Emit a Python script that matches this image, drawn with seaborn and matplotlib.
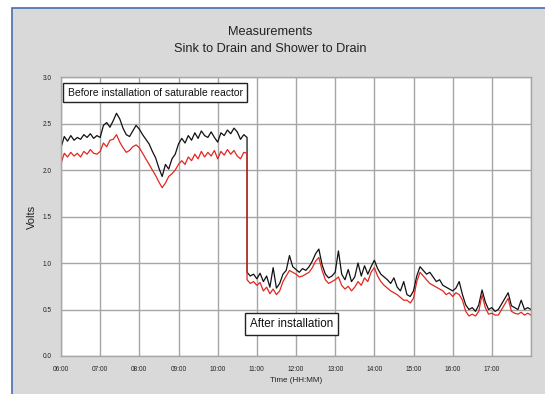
import numpy as np
import pandas as pd
import matplotlib
matplotlib.use("Agg")
import matplotlib.pyplot as plt
from matplotlib.patches import Rectangle
import seaborn as sns

# ---- data: 5-minute samples ----
# before installation: 06:00 .. 10:45
before_start = 6.0
sink_before = [
    2.24, 2.36, 2.31, 2.37, 2.32, 2.35, 2.33, 2.38, 2.35, 2.39, 2.34, 2.37,
    2.35, 2.48, 2.51, 2.46, 2.53, 2.61, 2.55, 2.45, 2.38, 2.36, 2.42, 2.48,
    2.44, 2.38, 2.33, 2.28, 2.20, 2.13, 2.02, 1.93, 2.06, 2.01, 2.12, 2.17,
    2.28, 2.34, 2.29, 2.37, 2.32, 2.40, 2.34, 2.42, 2.37, 2.35, 2.41, 2.35,
    2.30, 2.40, 2.37, 2.43, 2.39, 2.45, 2.41, 2.33, 2.38, 2.35,
]
shower_before = [
    2.07, 2.18, 2.14, 2.19, 2.15, 2.18, 2.14, 2.20, 2.17, 2.22, 2.18, 2.17,
    2.20, 2.29, 2.25, 2.32, 2.33, 2.38, 2.30, 2.24, 2.19, 2.21, 2.25, 2.27,
    2.24, 2.18, 2.12, 2.06, 2.00, 1.94, 1.87, 1.81, 1.86, 1.93, 1.96, 2.00,
    2.06, 2.10, 2.06, 2.14, 2.10, 2.17, 2.12, 2.20, 2.14, 2.19, 2.15, 2.21,
    2.12, 2.20, 2.16, 2.22, 2.17, 2.21, 2.15, 2.12, 2.19, 2.18,
]
# after installation: 10:45 .. 18:00
after_start = 10.75
sink_after = [
    0.90, 0.86, 0.88,
    0.83, 0.89, 0.80, 0.86, 0.74, 0.95, 0.73, 0.78, 0.88, 0.92, 1.08, 0.96,
    0.93, 0.90, 0.94, 0.92, 0.96, 1.02, 1.10, 1.15, 0.98, 0.88, 0.84, 0.86,
    0.90, 1.13, 0.88, 0.82, 0.93, 0.80, 0.85, 1.00, 0.86, 0.97, 0.88, 0.96,
    1.03, 0.94, 0.88, 0.85, 0.82, 0.78, 0.84, 0.74, 0.70, 0.80, 0.66, 0.64,
    0.70, 0.86, 0.96, 0.92, 0.88, 0.90, 0.85, 0.80, 0.82, 0.76, 0.74, 0.72,
    0.70, 0.73, 0.80, 0.66, 0.55, 0.50, 0.52, 0.48, 0.55, 0.71, 0.58, 0.50,
    0.52, 0.48, 0.50, 0.56, 0.62, 0.68, 0.54, 0.52, 0.50, 0.60, 0.50, 0.52,
    0.50,
]
shower_after = [
    0.82, 0.78, 0.80,
    0.76, 0.79, 0.70, 0.74, 0.67, 0.72, 0.66, 0.70, 0.80, 0.86, 0.92, 0.90,
    0.88, 0.85, 0.86, 0.88, 0.90, 0.95, 1.02, 1.06, 0.92, 0.82, 0.78, 0.80,
    0.82, 0.85, 0.76, 0.72, 0.75, 0.70, 0.74, 0.80, 0.76, 0.84, 0.80, 0.90,
    0.95, 0.86, 0.80, 0.76, 0.73, 0.70, 0.68, 0.66, 0.63, 0.60, 0.60, 0.57,
    0.62, 0.80, 0.90, 0.86, 0.82, 0.78, 0.76, 0.74, 0.72, 0.70, 0.66, 0.68,
    0.64, 0.68, 0.66, 0.60, 0.48, 0.43, 0.45, 0.43, 0.48, 0.66, 0.52, 0.45,
    0.46, 0.44, 0.44, 0.50, 0.56, 0.62, 0.48, 0.46, 0.45, 0.47, 0.44, 0.46,
    0.44,
]
tick_labels = ["06:00", "07:00", "08:00", "09:00", "10:00", "11:00",
               "12:00", "13:00", "14:00", "15:00", "16:00", "17:00"]
y_ticks = [0.0, 0.5, 1.0, 1.5, 2.0, 2.5, 3.0]

step_h = 5 / 60.0
hours_before = before_start + np.arange(len(sink_before)) * step_h
hours_after = after_start + np.arange(len(sink_after)) * step_h
hours = np.concatenate([hours_before, hours_after])

df = pd.concat([
    pd.DataFrame({"hour": hours, "volts": sink_before + sink_after,
                  "series": "sink"}),
    pd.DataFrame({"hour": hours, "volts": shower_before + shower_after,
                  "series": "shower"}),
], ignore_index=True)

sns.set_style("white")
plt.rcParams["font.family"] = ["Liberation Sans", "DejaVu Sans"]

W, H = 545, 394
fig = plt.figure(figsize=(W / 100, H / 100), dpi=100)
fig.patch.set_facecolor("white")
fig.patches.append(Rectangle((12 / W, -0.2), 1.2, (H - 8) / H + 0.2,
                             transform=fig.transFigure, facecolor="#d9d9d9",
                             edgecolor="#4a6cb3", linewidth=1.2, zorder=-10))

ax = fig.add_axes([61 / W, 1 - 356 / H, 470 / W, 279 / H])
ax.set_facecolor("white")

sns.lineplot(data=df, x="hour", y="volts", hue="series",
             palette={"sink": "#111111", "shower": "#e3261f"},
             hue_order=["sink", "shower"], linewidth=0.9, legend=False,
             sort=False, ax=ax, estimator=None)

ax.set_xlim(6, 18)
ax.set_ylim(0, 3)
ax.set_xticks(np.arange(6, 18))
ax.set_xticks([18], minor=True)
ax.set_xticklabels(tick_labels)
ax.set_yticks(y_ticks)
ax.set_yticklabels([f"{v:.1f}" for v in y_ticks])
ax.grid(True, which="both", color="#a6a6a6", linewidth=1.0)
ax.set_axisbelow(True)
for s in ax.spines.values():
    s.set_color("#a6a6a6")
    s.set_linewidth(1.0)
ax.tick_params(axis="both", which="both", direction="out", length=3,
               color="#a6a6a6", labelsize=4.7, pad=4, labelcolor="#222222")

ax.set_xlabel("Time (HH:MM)", fontsize=5.8, labelpad=3, color="#222222")
ax.set_ylabel("Volts", fontsize=8, labelpad=4, color="#222222")

fig.text(0.495, 1 - 32 / H, "Measurements", ha="center", va="center",
         fontsize=9.2, color="#222222")
fig.text(0.495, 1 - 49 / H, "Sink to Drain and Shower to Drain", ha="center",
         va="center", fontsize=9.2, color="#222222")

ax.text(6.17, 2.83, "Before installation of saturable reactor", fontsize=7.5,
        va="center", ha="left", color="#111111",
        bbox=dict(boxstyle="square,pad=0.42", facecolor="white",
                  edgecolor="#222222", linewidth=1.0))
ax.text(10.82, 0.34, "After installation", fontsize=8.4,
        va="center", ha="left", color="#111111",
        bbox=dict(boxstyle="square,pad=0.42", facecolor="white",
                  edgecolor="#222222", linewidth=1.0))

fig.savefig("out.png", dpi=100)
